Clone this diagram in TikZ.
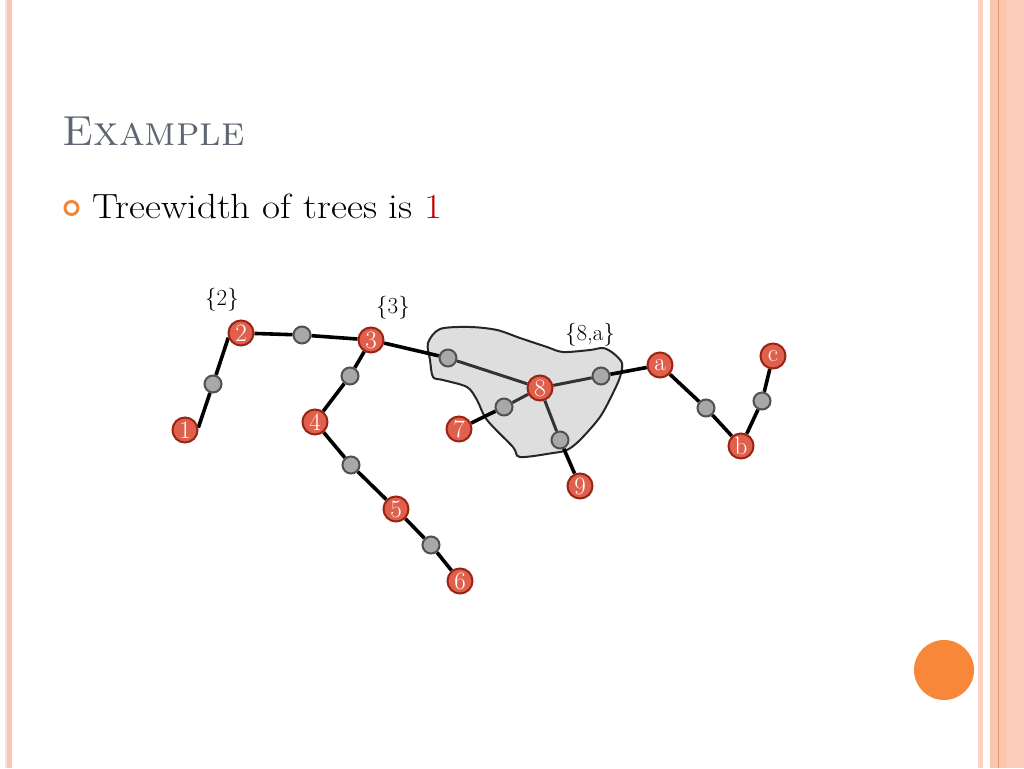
\documentclass[tikz,border=0pt]{standalone}
\usepackage{fontspec}
\usetikzlibrary{backgrounds}
\definecolor{titlegray}{HTML}{5F6673}
\definecolor{bulorange}{HTML}{F0883A}
\definecolor{onered}{HTML}{C00000}
\definecolor{nodered}{HTML}{E0604E}
\definecolor{nodeborder}{HTML}{9A2414}
\definecolor{graynode}{HTML}{A8A8A8}
\definecolor{grayborder}{HTML}{505050}
\definecolor{blobfill}{HTML}{DEDEDE}
\definecolor{salmonA}{HTML}{FBD2C2}
\definecolor{salmonB}{HTML}{FBC6B0}
\definecolor{salmonC}{HTML}{FCCDBA}
\definecolor{stripeline}{HTML}{EE9A68}
\definecolor{lightstripe}{HTML}{F8E2DA}
\definecolor{dotorange}{HTML}{F8873A}
\pgfdeclarelayer{bg}
\pgfdeclarelayer{blob}
\pgfdeclarelayer{edges}
\pgfsetlayers{bg,blob,edges,main}
\tikzset{
  rednode/.style={circle, fill=nodered, draw=nodeborder, line width=2pt, minimum size=25pt, inner sep=0pt, text=white, font=\fontsize{25}{25}\selectfont},
  graynode/.style={circle, fill=graynode, draw=grayborder, line width=2pt, minimum size=17pt, inner sep=0pt},
  tedge/.style={line width=3.6pt, black},
  iedge/.style={line width=3pt, black!80},
  setlabel/.style={font=\fontsize{23}{23}\selectfont, inner sep=0pt}
}
\begin{document}
\begin{tikzpicture}[x=1pt,y=-1pt]
\useasboundingbox (0,0) rectangle (1024,768);
\begin{pgfonlayer}{bg}
\fill[white] (0,0) rectangle (1024,768);
% left border
\fill[lightstripe] (5,0) rectangle (7,768);
\fill[salmonB] (7,0) rectangle (12,768);
% right border
\fill[salmonA] (978,0) rectangle (983,768);
\fill[salmonB] (990,0) rectangle (1024,768);
\fill[salmonC] (1007,0) rectangle (1024,768);
\draw[stripeline, line width=1pt] (998,0) -- (998,768);
% orange dot
\fill[dotorange] (944,670) circle (30);
\end{pgfonlayer}
% title
\node[anchor=base west, text=titlegray, inner sep=0pt, font=\fontsize{42}{42}\selectfont] (title) at (62,145) {\textsc{Example}};
% bullet
\draw[bulorange, line width=3pt] (71.5,208) circle (6.5);
\node[anchor=base west, inner sep=0pt, font=\fontsize{35}{35}\selectfont] (bullet) at (92,218) {\scalebox{1.12}[1]{Treewidth of trees is \textcolor{onered}{1}}};
% blob
\begin{pgfonlayer}{blob}
\draw[fill=blobfill, draw=black!85, line width=2pt, line join=round]
 plot[smooth cycle, tension=0.5] coordinates {
 (428,343) (440,329) (470,327) (497,330) (520,338) (547,347) (563,352)
 (590,350) (603,348) (613,353) (622,363) (620,377) (613,393) (600,417)
 (580,440) (567,450) (553,453) (520,457) (513,447) (487,420) (477,400)
 (467,387) (443,380) (433,377) (430,360)};
\end{pgfonlayer}
% red nodes
\node[rednode] (n1) at (185,430) {1};
\node[rednode] (n2) at (241,333) {2};
\node[rednode] (n3) at (371,340) {3};
\node[rednode] (n4) at (315,422) {4};
\node[rednode] (n5) at (396,509) {5};
\node[rednode] (n6) at (460,581) {6};
\node[rednode] (n7) at (459,429) {7};
\node[rednode] (n8) at (540,388) {8};
\node[rednode] (n9) at (580,486) {9};
\node[rednode] (na) at (660,365) {a};
\node[rednode] (nb) at (741,446) {b};
\node[rednode] (nc) at (773,356) {c};
% gray nodes
\node[graynode] (g12) at (213,384) {};
\node[graynode] (g23) at (302,335) {};
\node[graynode] (g34) at (350,376) {};
\node[graynode] (g45) at (351,465) {};
\node[graynode] (g56) at (431,545) {};
\node[graynode] (g38) at (448,358) {};
\node[graynode] (g78) at (504,407) {};
\node[graynode] (g89) at (560,440) {};
\node[graynode] (g8a) at (601,376) {};
\node[graynode] (gab) at (706,408) {};
\node[graynode] (gbc) at (762,401) {};
% labels
\node[setlabel] (l2) at (222,300) {\{2\}};
\node[setlabel] (l3) at (393,308) {\{3\}};
\node[setlabel] (l8a) at (590,335) {\{8,a\}};
% edges
\begin{pgfonlayer}{edges}
\draw[tedge] (n1.10) -- (g12) -- (n2.200);
\draw[tedge] (n2) -- (g23) -- (n3) -- (g34) -- (n4) -- (g45) -- (n5) -- (g56) -- (n6);
\draw[tedge] (n3) -- (g38);
\draw[iedge] (g38) -- (n8) -- (g8a);
\draw[iedge] (n8) -- (g78);
\draw[iedge] (n8) -- (g89);
\draw[tedge] (g78) -- (n7);
\draw[tedge] (g89) -- (n9);
\draw[tedge] (g8a) -- (na) -- (gab) -- (nb) -- (gbc) -- (nc);
\end{pgfonlayer}
\end{tikzpicture}
\end{document}
